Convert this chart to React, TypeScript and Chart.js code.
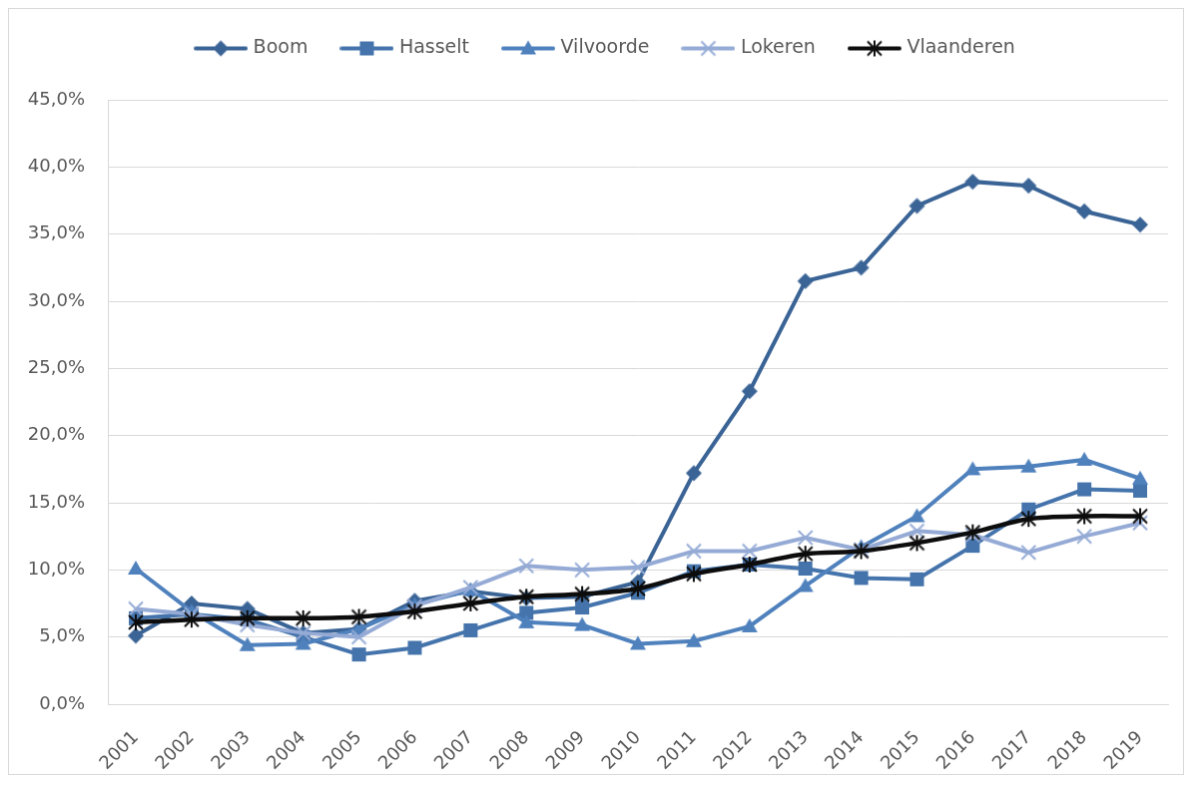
import React, { useEffect, useRef } from "react";
import { Chart, registerables } from "chart.js";

Chart.register(...registerables);

const years = ["2001","2002","2003","2004","2005","2006","2007","2008","2009","2010","2011","2012","2013","2014","2015","2016","2017","2018","2019"];
const boom = [5.1, 7.5, 7.1, 5.3, 5.6, 7.7, 8.4, 7.9, 8.0, 9.1, 17.2, 23.3, 31.5, 32.5, 37.1, 38.9, 38.6, 36.7, 35.7];
const hasselt = [6.4, 6.7, 6.3, 5.0, 3.7, 4.2, 5.5, 6.8, 7.2, 8.3, 9.9, 10.4, 10.1, 9.4, 9.3, 11.8, 14.5, 16.0, 15.9];
const vilvoorde = [10.1, 6.9, 4.4, 4.5, 5.6, 7.4, 8.5, 6.1, 5.9, 4.5, 4.7, 5.8, 8.8, 11.7, 14.0, 17.5, 17.7, 18.2, 16.8];
const lokeren = [7.1, 6.7, 5.9, 5.3, 5.0, 7.3, 8.7, 10.3, 10.0, 10.2, 11.4, 11.4, 12.4, 11.5, 12.9, 12.6, 11.3, 12.5, 13.5];
const vlaanderen = [6.1, 6.3, 6.4, 6.4, 6.5, 6.9, 7.5, 8.0, 8.2, 8.6, 9.7, 10.4, 11.2, 11.4, 12.0, 12.8, 13.8, 14.0, 14.0];

const seriesNames = ["Boom", "Hasselt", "Vilvoorde", "Lokeren", "Vlaanderen"];
const seriesColors = ["#3B6496", "#4574AC", "#4F81BD", "#95ABD6", "#0D0D0D"];
const seriesMarkers = ["diamond", "square", "triangle", "x", "star"];
const seriesData = [boom, hasselt, vilvoorde, lokeren, vlaanderen];
const yTicks = [0, 5, 10, 15, 20, 25, 30, 35, 40, 45];

const FONT = "'DejaVu Sans', sans-serif";
const TEXT = "#595959";
const GRID = "#D9D9D9";

function drawMarker(ctx: CanvasRenderingContext2D, type: string, cx: number, cy: number, color: string) {
  ctx.save();
  ctx.fillStyle = color;
  ctx.strokeStyle = color;
  ctx.lineCap = "butt";
  if (type === "diamond") {
    const r = 8;
    ctx.beginPath();
    ctx.moveTo(cx, cy - r);
    ctx.lineTo(cx + r, cy);
    ctx.lineTo(cx, cy + r);
    ctx.lineTo(cx - r, cy);
    ctx.closePath();
    ctx.fill();
  } else if (type === "square") {
    const s = 14;
    ctx.fillRect(cx - s / 2, cy - s / 2, s, s);
  } else if (type === "triangle") {
    const w = 16, h = 14;
    ctx.beginPath();
    ctx.moveTo(cx, cy - h / 2 - 1);
    ctx.lineTo(cx + w / 2, cy + h / 2 - 1);
    ctx.lineTo(cx - w / 2, cy + h / 2 - 1);
    ctx.closePath();
    ctx.fill();
  } else if (type === "x") {
    const r = 7;
    ctx.lineWidth = 2;
    ctx.beginPath();
    ctx.moveTo(cx - r, cy - r);
    ctx.lineTo(cx + r, cy + r);
    ctx.moveTo(cx + r, cy - r);
    ctx.lineTo(cx - r, cy + r);
    ctx.stroke();
  } else if (type === "star") {
    const r = 7;
    ctx.lineWidth = 2;
    ctx.beginPath();
    ctx.moveTo(cx - r, cy - r);
    ctx.lineTo(cx + r, cy + r);
    ctx.moveTo(cx + r, cy - r);
    ctx.lineTo(cx - r, cy + r);
    ctx.moveTo(cx, cy - r - 1);
    ctx.lineTo(cx, cy + r + 1);
    ctx.stroke();
  }
  ctx.restore();
}

function makePointImage(type: string, color: string) {
  const c = document.createElement("canvas");
  c.width = 22;
  c.height = 22;
  const ctx = c.getContext("2d")!;
  drawMarker(ctx, type, 11, 11, color);
  return c;
}

function makeLegendImage(type: string, color: string) {
  const c = document.createElement("canvas");
  c.width = 54;
  c.height = 22;
  const ctx = c.getContext("2d")!;
  ctx.strokeStyle = color;
  ctx.lineWidth = 4;
  ctx.lineCap = "round";
  ctx.beginPath();
  ctx.moveTo(2, 11);
  ctx.lineTo(52, 11);
  ctx.stroke();
  drawMarker(ctx, type, 27, 11, color);
  return c;
}

export default function App() {
  const ref = useRef<HTMLCanvasElement | null>(null);

  useEffect(() => {
    if (!ref.current) return;
    const pointImages = seriesNames.map((_, i) => makePointImage(seriesMarkers[i], seriesColors[i]));
    const legendImages = seriesNames.map((_, i) => makeLegendImage(seriesMarkers[i], seriesColors[i]));

    const datasets = seriesNames.map((name, i) => ({
      label: name,
      data: seriesData[i],
      borderColor: seriesColors[i],
      backgroundColor: seriesColors[i],
      borderWidth: i === 4 ? 4.5 : 4,
      tension: i === 4 ? 0.3 : 0,
      pointStyle: pointImages[i],
      pointRadius: 8,
      pointHoverRadius: 8,
      order: 5 - i,
    }));

    const legendFit = {
      id: "legendFit",
      beforeUpdate(chart: any) {
        const lg = chart.legend;
        if (lg && !lg._patched) {
          const origFit = lg.fit;
          lg.fit = function () {
            origFit.call(this);
            this.height = 97;
          };
          const origDraw = lg.draw;
          lg.draw = function () {
            const ctx = this.ctx;
            ctx.save();
            ctx.translate(18, 0);
            origDraw.call(this);
            ctx.restore();
          };
          lg._patched = true;
        }
      },
    };

    const chart = new Chart(ref.current, {
      type: "line",
      data: { labels: years, datasets },
      plugins: [legendFit],
      options: {
        responsive: false,
        animation: false,
        devicePixelRatio: 1,
        layout: { padding: { left: 0, right: 15, top: -6, bottom: 0 } },
        plugins: {
          tooltip: { enabled: false },
          legend: {
            position: "top",
            align: "center",
            labels: {
              usePointStyle: true,
              pointStyleWidth: 46,
              padding: 36,
              color: TEXT,
              font: { family: FONT, size: 19 },
              generateLabels: () =>
                seriesNames.map((name, i) => ({
                  text: name,
                  fillStyle: seriesColors[i],
                  strokeStyle: seriesColors[i],
                  lineWidth: 0,
                  pointStyle: legendImages[i],
                  hidden: false,
                  datasetIndex: i,
                  fontColor: TEXT,
                })),
            },
          },
        },
        scales: {
          x: {
            offset: true,
            grid: { display: false, drawTicks: false },
            border: { display: true, color: GRID, width: 1 },
            ticks: {
              autoSkip: false,
              minRotation: 45,
              maxRotation: 45,
              padding: 23,
              color: TEXT,
              font: { family: FONT, size: 18 },
            },
            afterFit: (scale: any) => {
              scale.height = 70;
            },
          },
          y: {
            min: 0,
            max: 45,
            grid: { color: GRID, lineWidth: 1, drawTicks: false },
            border: { display: true, color: GRID, width: 1 },
            afterBuildTicks: (scale: any) => {
              scale.ticks = yTicks.map((v) => ({ value: v }));
            },
            ticks: {
              padding: 23,
              color: TEXT,
              font: { family: FONT, size: 18 },
              callback: (v: any) => Number(v).toFixed(1).replace(".", ",") + "%",
            },
            afterFit: (scale: any) => {
              scale.width = 99;
            },
          },
        },
      },
    });
    return () => chart.destroy();
  }, []);

  return (
    <canvas
      ref={ref}
      width={1176}
      height={767}
      style={{ display: "block", border: "1px solid #D9D9D9" }}
    />
  );
}
